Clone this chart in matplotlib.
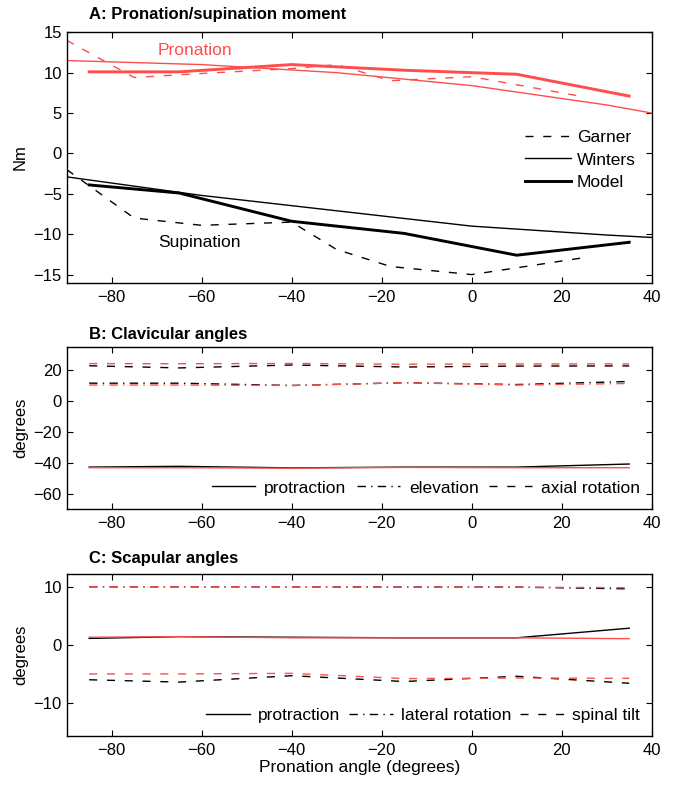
import matplotlib
matplotlib.use("Agg")
import matplotlib.pyplot as plt
from matplotlib.lines import Line2D

plt.rcParams['font.family'] = ['Liberation Sans', 'DejaVu Sans']
plt.rcParams['font.size'] = 12

RED = '#FF4D4D'

# ---------------- Panel A data ----------------
model_x = [-85, -65, -40, -15, 10, 35]
pron_model = [10.1, 10.1, 11.0, 10.3, 9.8, 7.1]
sup_model = [-3.9, -4.9, -8.4, -9.9, -12.6, -11.0]

winters_x = [-90, -60, -30, 0, 30, 40]
pron_winters = [11.5, 11.0, 10.0, 8.4, 6.0, 5.0]
sup_winters = [-2.9, -5.2, -7.1, -9.0, -10.1, -10.4]

garner_x = [-90, -75, -60, -40, -30, -18, 0, 25]
pron_garner = [14.0, 9.4, 9.9, 10.5, 11.0, 9.0, 9.5, 7.0]
sup_garner = [-2.0, -8.0, -8.9, -8.5, -11.9, -14.0, -15.0, -12.9]

# ---------------- Panel B data (clavicular) ----------------
angle_x = [-85, -65, -40, -15, 10, 35]
clav_prot_k = [-42.8, -42.3, -43.3, -42.8, -42.8, -40.8]
clav_prot_r = [-43.2, -43.2, -43.5, -43.0, -43.2, -43.2]
clav_elev_k = [11.7, 11.7, 10.2, 12.0, 10.8, 12.8]
clav_elev_r = [10.5, 10.5, 10.2, 12.0, 10.5, 11.5]
clav_axial_k = [23.0, 21.6, 23.5, 22.2, 22.8, 22.9]
clav_axial_r = [24.4, 24.3, 24.5, 24.0, 24.2, 24.2]

# ---------------- Panel C data (scapular) ----------------
scap_prot_k = [1.1, 1.4, 1.3, 1.2, 1.2, 2.85]
scap_prot_r = [1.3, 1.4, 1.2, 1.2, 1.2, 1.05]
scap_lat_k = [9.95, 9.95, 9.95, 9.9, 9.9, 9.6]
scap_lat_r = [9.95, 9.95, 9.95, 9.9, 9.9, 9.8]
scap_tilt_k = [-6.0, -6.4, -5.3, -6.3, -5.4, -6.6]
scap_tilt_r = [-5.0, -5.0, -4.9, -5.8, -5.7, -5.75]

xticks = [-80, -60, -40, -20, 0, 20, 40]

DASH = (0, (5.8, 7.0))
DASHDOT = (0, (6, 3.8, 1, 3.8))
THIN = 1.0
THICK = 2.1
FS = 12.5

fig = plt.figure(figsize=(6.73, 7.85), dpi=100)
L, W = 0.0991, 0.8692
axA = fig.add_axes([L, 0.6399, W, 0.319])
axB = fig.add_axes([L, 0.3516, W, 0.206])
axC = fig.add_axes([L, 0.0628, W, 0.2056])


def fmt(v):
    return str(v).replace('-', '\u2212')


def style(ax, yt):
    ax.tick_params(direction='in', top=True, right=True, length=4, width=0.8, labelsize=12)
    ax.tick_params(axis='x', pad=5)
    for s in ax.spines.values():
        s.set_linewidth(1.0)
    ax.set_xlim(-90, 40)
    ax.set_xticks(xticks)
    ax.set_xticklabels([fmt(v) for v in xticks])
    ax.set_yticks(yt)
    ax.set_yticklabels([fmt(v) for v in yt])


def title(ax, s, yoff):
    ax.text(0.038, yoff, s, transform=ax.transAxes, ha='left', va='center',
            fontweight='bold', fontsize=12)


# Panel A
axA.plot(garner_x, pron_garner, color=RED, lw=THIN, linestyle=DASH)
axA.plot(winters_x, pron_winters, color=RED, lw=THIN)
axA.plot(model_x, pron_model, color=RED, lw=THICK)
axA.plot(garner_x, sup_garner, color='black', lw=THIN, linestyle=DASH)
axA.plot(winters_x, sup_winters, color='black', lw=THIN)
axA.plot(model_x, sup_model, color='black', lw=THICK)
axA.set_ylim(-16, 15)
style(axA, [-15, -10, -5, 0, 5, 10, 15])
axA.set_ylabel('Nm', fontsize=12)
title(axA, 'A: Pronation/supination moment', 1.072)
axA.text(-61.6, 12.8, 'Pronation', color=RED, ha='center', va='center', fontsize=FS)
axA.text(-60.6, -11.0, 'Supination', color='black', ha='center', va='center', fontsize=FS)
hA = [Line2D([], [], color='black', lw=THIN, linestyle=DASH),
      Line2D([], [], color='black', lw=THIN),
      Line2D([], [], color='black', lw=THICK)]
axA.legend(hA, ['Garner', 'Winters', 'Model'], loc='center left', bbox_to_anchor=(0.756, 0.49),
           frameon=False, fontsize=FS, handlelength=2.7, handletextpad=0.3, labelspacing=0.4)

# Panel B
axB.plot(angle_x, clav_prot_k, color='black', lw=THIN)
axB.plot(angle_x, clav_prot_r, color=RED, lw=THIN)
axB.plot(angle_x, clav_elev_k, color='black', lw=THIN, linestyle=DASHDOT)
axB.plot(angle_x, clav_elev_r, color=RED, lw=THIN, linestyle=DASHDOT)
axB.plot(angle_x, clav_axial_k, color='black', lw=THIN, linestyle=DASH)
axB.plot(angle_x, clav_axial_r, color=RED, lw=THIN, linestyle=DASH)
axB.set_ylim(-70, 35)
style(axB, [-60, -40, -20, 0, 20])
axB.set_ylabel('degrees', fontsize=12)
title(axB, 'B: Clavicular angles', 1.076)
hB = [Line2D([], [], color='black', lw=THIN),
      Line2D([], [], color='black', lw=THIN, linestyle=DASHDOT),
      Line2D([], [], color='black', lw=THIN, linestyle=DASH)]
axB.legend(hB, ['protraction', 'elevation', 'axial rotation'], loc='center right',
           bbox_to_anchor=(1.007, 0.13), ncol=3, frameon=False, fontsize=FS,
           handlelength=2.5, handletextpad=0.5, columnspacing=0.6)

# Panel C
axC.plot(angle_x, scap_prot_k, color='black', lw=THIN)
axC.plot(angle_x, scap_prot_r, color=RED, lw=THIN)
axC.plot(angle_x, scap_lat_k, color='black', lw=THIN, linestyle=DASHDOT)
axC.plot(angle_x, scap_lat_r, color=RED, lw=THIN, linestyle=DASHDOT)
axC.plot(angle_x, scap_tilt_k, color='black', lw=THIN, linestyle=DASH)
axC.plot(angle_x, scap_tilt_r, color=RED, lw=THIN, linestyle=DASH)
axC.set_ylim(-15.6, 12.1)
style(axC, [-10, 0, 10])
axC.set_ylabel('degrees', fontsize=12)
axC.set_xlabel('Pronation angle (degrees)', fontsize=FS, labelpad=2)
title(axC, 'C: Scapular angles', 1.1)
hC = [Line2D([], [], color='black', lw=THIN),
      Line2D([], [], color='black', lw=THIN, linestyle=DASHDOT),
      Line2D([], [], color='black', lw=THIN, linestyle=DASH)]
axC.legend(hC, ['protraction', 'lateral rotation', 'spinal tilt'], loc='center right',
           bbox_to_anchor=(1.007, 0.128), ncol=3, frameon=False, fontsize=FS,
           handlelength=2.5, handletextpad=0.5, columnspacing=0.5)

fig.savefig('out.png', dpi=100)
